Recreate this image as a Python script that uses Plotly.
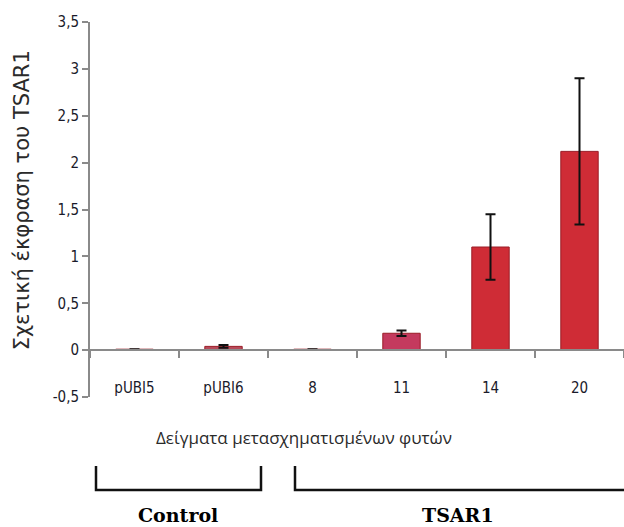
import plotly.graph_objects as go

categories = ["pUBI5", "pUBI6", "8", "11", "14", "20"]
values = [0.01, 0.04, 0.01, 0.18, 1.10, 2.12]
errors = [0.0, 0.015, 0.0, 0.03, 0.35, 0.78]
bar_colors = ["#c9707e", "#b84a5a", "#b07078", "#c43a5e", "#cf2c36", "#cf2c36"]
ytick_vals = [-0.5, 0, 0.5, 1, 1.5, 2, 2.5, 3, 3.5]
ytick_text = ["-0,5", "0", "0,5", "1", "1,5", "2", "2,5", "3", "3,5"]

y_title = "Σχετική έκφραση του TSAR1"
x_title = "Δείγματα μετασχηματισμένων φυτών"
groups = [("Control", 0, 1), ("TSAR1", 2, 5)]

fig = go.Figure()
fig.add_trace(go.Bar(
    x=categories, y=values,
    marker=dict(color=bar_colors, line=dict(color="#9a1c26", width=1)),
    error_y=dict(type="data", array=errors, color="#111111", thickness=2, width=5),
    showlegend=False,
))

fig.update_layout(
    width=624, height=527,
    margin=dict(l=90, r=0, t=22, b=130),
    paper_bgcolor="white", plot_bgcolor="white",
    bargap=0.58,
    separators=",.",
    xaxis=dict(
        anchor="free", position=0.125,
        showline=True, linecolor="#8a8a8a", linewidth=2,
        ticks="outside", tickson="boundaries", ticklen=7, tickcolor="#8a8a8a", tickwidth=2,
        ticklabelstandoff=24,
        tickfont=dict(family="DejaVu Sans Condensed, DejaVu Sans", size=15, color="#1a1a2a"),
        showgrid=False, zeroline=False,
    ),
    yaxis=dict(
        range=[-0.5, 3.5], tickvals=ytick_vals, ticktext=ytick_text,
        showline=True, linecolor="#8a8a8a", linewidth=2,
        ticks="outside", ticklen=6, tickcolor="#8a8a8a", tickwidth=2,
        tickfont=dict(family="DejaVu Sans Condensed, DejaVu Sans", size=15, color="#1a1a2a"),
        showgrid=False, zeroline=False,
    ),
)

# axis titles
fig.add_annotation(text=y_title, xref="paper", yref="paper", x=-0.127, y=0.525,
                   textangle=-90, showarrow=False, xanchor="center", yanchor="middle",
                   font=dict(family="DejaVu Sans", size=21, color="#2a2a2a"))
fig.add_annotation(text=x_title, xref="paper", yref="paper", x=0.4, y=-0.107,
                   showarrow=False, xanchor="center", yanchor="middle",
                   font=dict(family="Open Sans", size=17, color="#2a2a2a"))

# group brackets
brackets = [(96, 261), (295, 624)]
for (name, i0, i1), (px0, px1) in zip(groups, brackets):
    x0 = (px0 - 90) / 534
    x1 = (px1 - 90) / 534
    yt = (397 - 466) / 375
    yb = (397 - 490) / 375
    fig.add_shape(type="path", xref="paper", yref="paper",
                  path=f"M {x0} {yt} L {x0} {yb} L {x1} {yb} L {x1} {yt}" if px1 < 620 else f"M {x0} {yt} L {x0} {yb} L {x1} {yb}",
                  line=dict(color="#111111", width=2.5))
    cx = (178 - 90) / 534 if name == "Control" else (458 - 90) / 534
    fig.add_annotation(text=f"<b>{name}</b>", xref="paper", yref="paper", x=cx,
                       y=(397 - 515) / 375, showarrow=False, xanchor="center", yanchor="middle",
                       font=dict(family="DejaVu Serif", size=19, color="#000000"))

fig.write_html("out.html")
